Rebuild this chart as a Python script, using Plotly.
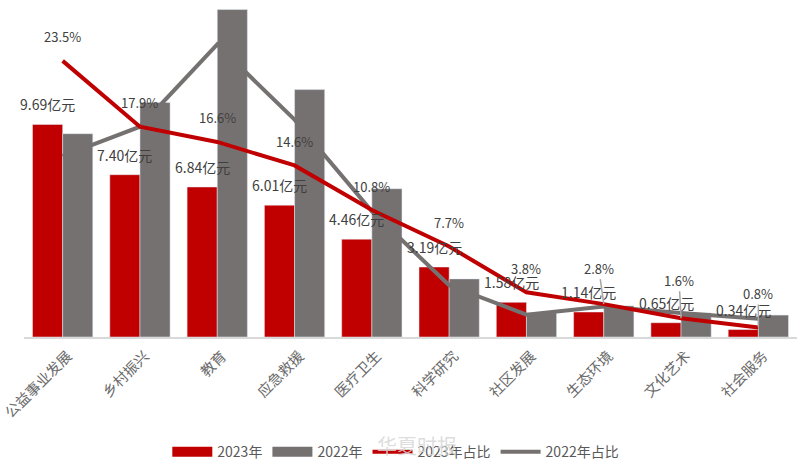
import plotly.graph_objects as go

categories = ['公益事业发展', '乡村振兴', '教育', '应急救援', '医疗卫生',
              '科学研究', '社区发展', '生态环境', '文化艺术', '社会服务']
amount_2023 = [9.69, 7.40, 6.84, 6.01, 4.46, 3.19, 1.58, 1.14, 0.65, 0.34]
amount_2022 = [9.27, 10.69, 14.93, 11.28, 6.76, 2.65, 1.10, 1.42, 1.10, 1.00]
share_2023 = [23.5, 17.9, 16.6, 14.6, 10.8, 7.7, 3.8, 2.8, 1.6, 0.8]
share_2022 = [15.4, 17.9, 24.9, 18.5, 10.7, 4.4, 1.9, 2.6, 2.05, 1.55]

RED = '#C00000'
GRAY = '#767171'
FONT = 'Noto Sans CJK SC'

fig = go.Figure()
fig.add_trace(go.Bar(x=categories, y=amount_2023, name='2023年', marker_color=RED, showlegend=False))
fig.add_trace(go.Bar(x=categories, y=amount_2022, name='2022年', marker_color=GRAY, showlegend=False))
# thick legend-only lines, bar swatches in plotly are too small
fig.add_trace(go.Scatter(x=[None], y=[None], name='2023年', mode='lines',
                         line=dict(color=RED, width=10), legendrank=1))
fig.add_trace(go.Scatter(x=[None], y=[None], name='2022年', mode='lines',
                         line=dict(color=GRAY, width=10), legendrank=2))
fig.add_trace(go.Scatter(x=categories, y=share_2022, name='2022年占比', yaxis='y2', mode='lines',
                         line=dict(color=GRAY, width=4), legendrank=4))
fig.add_trace(go.Scatter(x=categories, y=share_2023, name='2023年占比', yaxis='y2', mode='lines',
                         line=dict(color=RED, width=4), legendrank=3))

annotations = []
for cat, v in zip(categories, amount_2023):
    annotations.append(dict(x=cat, y=v, xref='x', yref='y', text=f'{v:.2f}亿元', showarrow=False,
                            xshift=-15, yshift=20, font=dict(size=14, color='#404040')))

# the last three share labels sit higher, with a thin leader back to the point
leaders = {'生态环境': (-5, -36), '文化艺术': (-2, -38), '社会服务': (0, -34)}
for cat, v in zip(categories, share_2023):
    if cat in leaders:
        ax, ay = leaders[cat]
        annotations.append(dict(x=cat, y=v, xref='x', yref='y2', text=f'{v}%', showarrow=True,
                                arrowhead=0, arrowwidth=1.5, arrowcolor='#a6a6a6', ax=ax, ay=ay,
                                font=dict(size=13, color='#404040')))
    else:
        annotations.append(dict(x=cat, y=v, xref='x', yref='y2', text=f'{v}%', showarrow=False,
                                yshift=24, font=dict(size=13, color='#404040')))

# watermark over the legend
annotations.append(dict(x=0.509, y=-0.33, xref='paper', yref='paper', yanchor='middle', text='华夏时报',
                        showarrow=False, font=dict(size=20, color='rgba(215,215,215,0.85)')))

fig.update_layout(
    width=802,
    height=468,
    margin=dict(l=24, r=5, t=8, b=131, autoexpand=False),
    barmode='group',
    bargap=0.22,
    bargroupgap=0,
    plot_bgcolor='white',
    paper_bgcolor='white',
    font=dict(family=FONT, color='#595959', size=13),
    xaxis=dict(range=[-0.5, 9.5], tickangle=-45, tickfont=dict(size=14.5, color='#6a6a6a'), showgrid=False,
               linecolor='#d9d9d9', linewidth=2, ticks='', automargin=False,
               ticklabelstandoff=3, ticklabelshift=5),
    yaxis=dict(range=[0, 15], visible=False),
    yaxis2=dict(range=[0, 28], overlaying='y', visible=False),
    legend=dict(orientation='h', x=0.481, xanchor='center', y=-0.35, yanchor='middle',
                font=dict(size=14, color='#595959'), traceorder='normal', itemwidth=40),
    annotations=annotations,
)

fig.write_html("out.html", config=dict(displayModeBar=False),
               post_script="document.body.style.margin='0';")
